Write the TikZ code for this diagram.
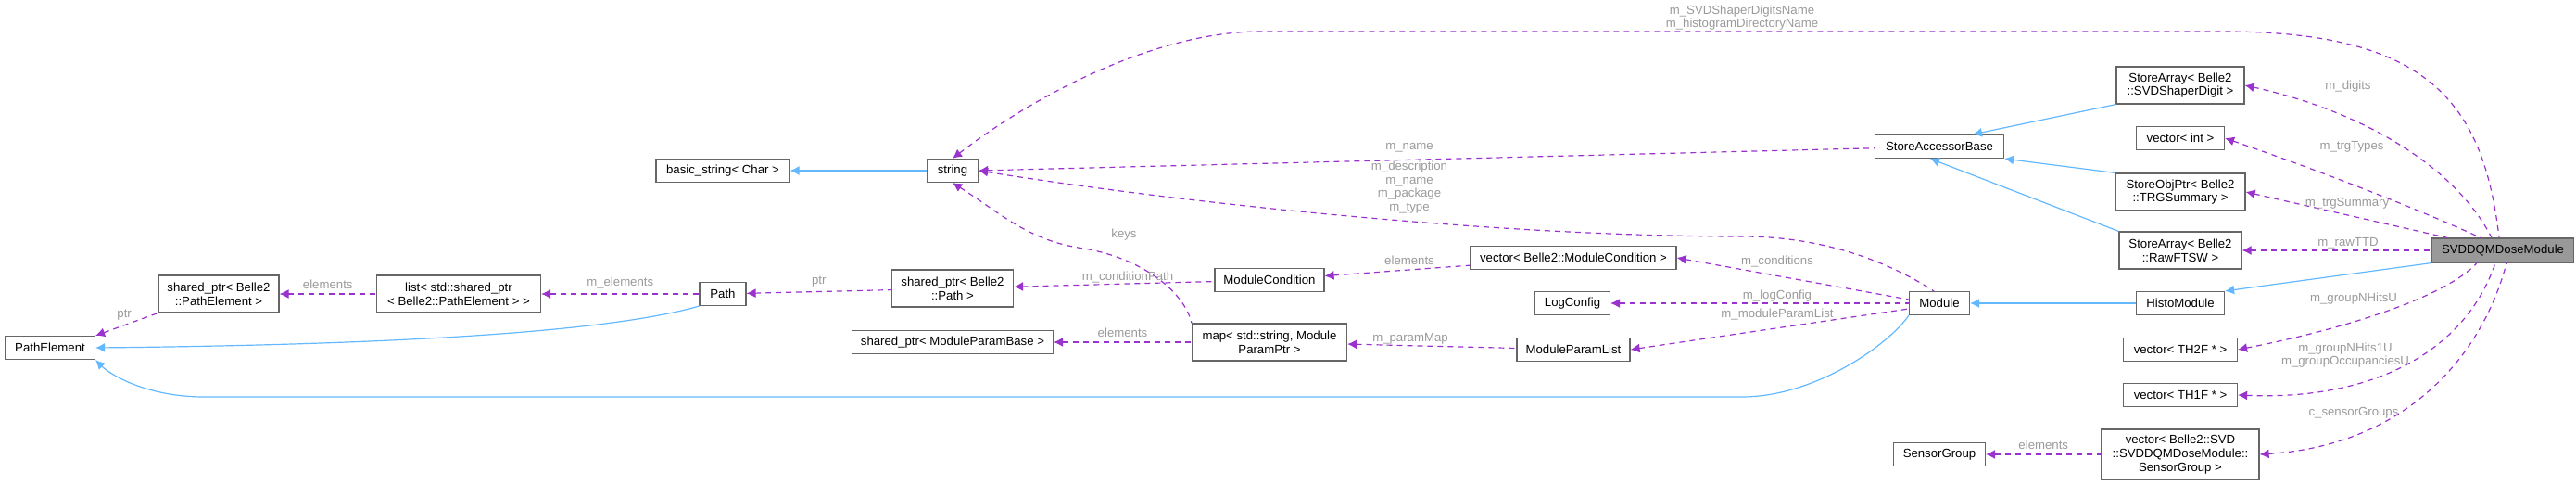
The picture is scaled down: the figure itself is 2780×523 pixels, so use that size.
\documentclass[tikz,border=0pt]{standalone}
\usepackage{fontspec}
\setmainfont{Liberation Sans}
\usetikzlibrary{arrows.meta}
\definecolor{dep}{HTML}{9A32CD}
\definecolor{inh}{HTML}{63B8FF}
\definecolor{lbl}{HTML}{9A9A9A}
\tikzset{every picture/.style={line width=0.6pt},
  box/.style={draw=black!60, fill=white, inner sep=0pt, minimum height=12.5pt, align=center, font=\fontsize{6.6}{7.4}\selectfont},
  uses/.style={draw=dep, dashed, dash pattern=on 3pt off 2.5pt, {Latex[length=5pt,width=5pt]}-},
  isa/.style={draw=inh, {Latex[length=5pt,width=5pt]}-},
  lab/.style={text=lbl, font=\fontsize{6.6}{7.4}\selectfont, inner sep=0.5pt, align=center}}

\begin{document}
\begin{tikzpicture}[x=0.5pt,y=0.5pt,yscale=-1]
\useasboundingbox (0,0) rectangle (2780,523);
% Nodes
\node [box, minimum width=48.5pt] (pel) at (54,375) {PathElement};
\node [box, minimum width=65pt, minimum height=20pt] (sppe) at (236,317) {shared\_ptr< Belle2\\::PathElement >};
\node [box, minimum width=88.5pt, minimum height=20pt] (lst) at (495,317) {list< std::shared\_ptr\\< Belle2::PathElement > >};
\node [box, minimum width=25pt] (path) at (780,317) {Path};
\node [box, minimum width=72pt] (bstr) at (780,184) {basic\_string< Char >};
\node [box, minimum width=27.5pt] (str) at (1028,184) {string};
\node [box, minimum width=65.5pt, minimum height=20pt] (sppath) at (1028,311) {shared\_ptr< Belle2\\::Path >};
\node [box, minimum width=108.5pt] (spmpb) at (1028,369) {shared\_ptr< ModuleParamBase >};
\node [box, minimum width=59pt] (mcond) at (1370,302) {ModuleCondition};
\node [box, minimum width=83.5pt, minimum height=20pt] (pmap) at (1370,369) {map< std::string, Module\\ParamPtr >};
\node [box, minimum width=111pt] (vmc) at (1698,278) {vector< Belle2::ModuleCondition >};
\node [box, minimum width=40.5pt] (logc) at (1697,327) {LogConfig};
\node [box, minimum width=61pt] (mpl) at (1698,377) {ModuleParamList};
\node [box, minimum width=69.5pt] (sab) at (2093,158) {StoreAccessorBase};
\node [box, minimum width=32.5pt] (mod) at (2093,327) {Module};
\node [box, minimum width=49.5pt] (sgrp) at (2093,490) {SensorGroup};
\node [box, minimum width=69pt, minimum height=20pt] (sadig) at (2353,92) {StoreArray< Belle2\\::SVDShaperDigit >};
\node [box, minimum width=47.5pt] (vint) at (2353,149) {vector< int >};
\node [box, minimum width=70pt, minimum height=20pt] (sotrg) at (2353,207) {StoreObjPtr< Belle2\\::TRGSummary >};
\node [box, minimum width=66pt, minimum height=20pt] (saftsw) at (2353,270) {StoreArray< Belle2\\::RawFTSW >};
\node [box, minimum width=47.5pt] (histo) at (2353,327) {HistoModule};
\node [box, minimum width=61.5pt] (vth2) at (2353,377) {vector< TH2F * >};
\node [box, minimum width=61.5pt] (vth1) at (2353,426) {vector< TH1F * >};
\node [box, minimum width=85pt, minimum height=27pt] (vsg) at (2353,490) {vector< Belle2::SVD\\::SVDDQMDoseModule::\\SensorGroup >};
\node [box, fill=black!40, minimum width=76.5pt, minimum height=13pt] (dqm) at (2701,270) {SVDDQMDoseModule};
% Inheritance
\draw [isa] (bstr) -- (str);
\draw [isa] (pel.east) .. controls (400,372) and (650,360) .. (path.south west);
\draw [isa] (pel.south east) .. controls (120,405) and (160,428) .. (220,428) -- (1880,428) .. controls (1960,428) and (2040,370) .. (mod.south west);
\draw [isa] (mod) -- (histo);
\draw [isa] (histo.north east) -- (dqm.south west);
\draw [isa] (sab.south east) -- (sotrg.north west);
\draw [isa] ([xshift=-5pt]sab.south) -- (saftsw.north west);
\draw [isa] ([xshift=18pt]sab.north) -- (sadig.south west);
% Members
\draw [uses] (sppe) -- node [lab, above=2pt] {elements} (lst);
\draw [uses] (lst) -- node [lab, above=2pt] {m\_elements} (path);
\draw [uses] (pel.north east) -- node [lab, above left, pos=0.6] {ptr} (sppe.south west);
\draw [uses] (path) -- node [lab, above=2pt] {ptr} (sppath);
\draw [uses] (sppath) -- (mcond);
\node [lab] (lcp) at (1217,299) {m\_conditionPath};
\draw [uses] (mcond) -- (vmc);
\node [lab] (lel1) at (1521,281) {elements};
\draw [uses] (vmc.east) -- ([yshift=-2pt]mod.west);
\node [lab] (lcnd) at (1918,282) {m\_conditions};
\draw [uses] (logc) -- (mod);
\node [lab] (llog) at (1918,319) {m\_logConfig};
\draw [uses] (mpl.east) -- ([yshift=3pt]mod.west);
\node [lab] (lmpl) at (1918,339) {m\_moduleParamList};
\draw [uses] (pmap) -- (mpl);
\node [lab] (lpm) at (1522,365) {m\_paramMap};
\draw [uses] (spmpb) -- node [lab, above=2pt] {elements} (pmap);
\draw [uses] (str.south) .. controls (1080,230) and (1110,260) .. (1170,268) .. controls (1240,280) and (1280,320) .. (pmap.north west);
\node [lab] (lkeys) at (1213,253) {keys};
\draw [uses] (str.east) -- (sab);
\node [lab] (lname) at (1521,159) {m\_name};
\draw [uses] (str.east) .. controls (1250,215) and (1600,255) .. (1880,255) .. controls (1980,255) and (2050,290) .. ([xshift=-3pt]mod.north);
\node [lab] (ldesc) at (1521,202) {m\_description\\m\_name\\m\_package\\m\_type};
\draw [uses] (str.north) .. controls (1120,100) and (1250,34) .. (1360,34) -- (2400,34) .. controls (2620,34) and (2680,110) .. ([xshift=-2pt]dqm.north);
\node [lab] (lsvd) at (1880,19) {m\_SVDShaperDigitsName\\m\_histogramDirectoryName};
\draw [uses] (sadig.east) .. controls (2550,120) and (2650,180) .. ([xshift=-6pt]dqm.north);
\node [lab] (ldig) at (2534,93) {m\_digits};
\draw [uses] (vint.east) .. controls (2520,190) and (2620,230) .. ([xshift=-12pt]dqm.north);
\node [lab] (ltrgt) at (2538,158) {m\_trgTypes};
\draw [uses] (sotrg.east) -- ([xshift=-30pt]dqm.north);
\node [lab] (ltrgs) at (2533,219) {m\_trgSummary};
\draw [uses] (saftsw) -- (dqm);
\node [lab] (lraw) at (2534,262) {m\_rawTTD};
\draw [uses] (vth2.east) .. controls (2530,355) and (2640,320) .. ([xshift=-14pt]dqm.south);
\node [lab] (lnh) at (2540,322) {m\_groupNHitsU};
\draw [uses] (vth1.east) .. controls (2560,432) and (2660,380) .. ([xshift=-4pt]dqm.south);
\node [lab] (lnh1) at (2531,383) {m\_groupNHits1U\\m\_groupOccupanciesU};
\draw [uses] (vsg.east) .. controls (2600,480) and (2680,380) .. ([xshift=2pt]dqm.south);
\node [lab] (lsg) at (2540,445) {c\_sensorGroups};
\draw [uses] (sgrp) -- node [lab, above=2pt] {elements} (vsg);
\end{tikzpicture}
\end{document}
